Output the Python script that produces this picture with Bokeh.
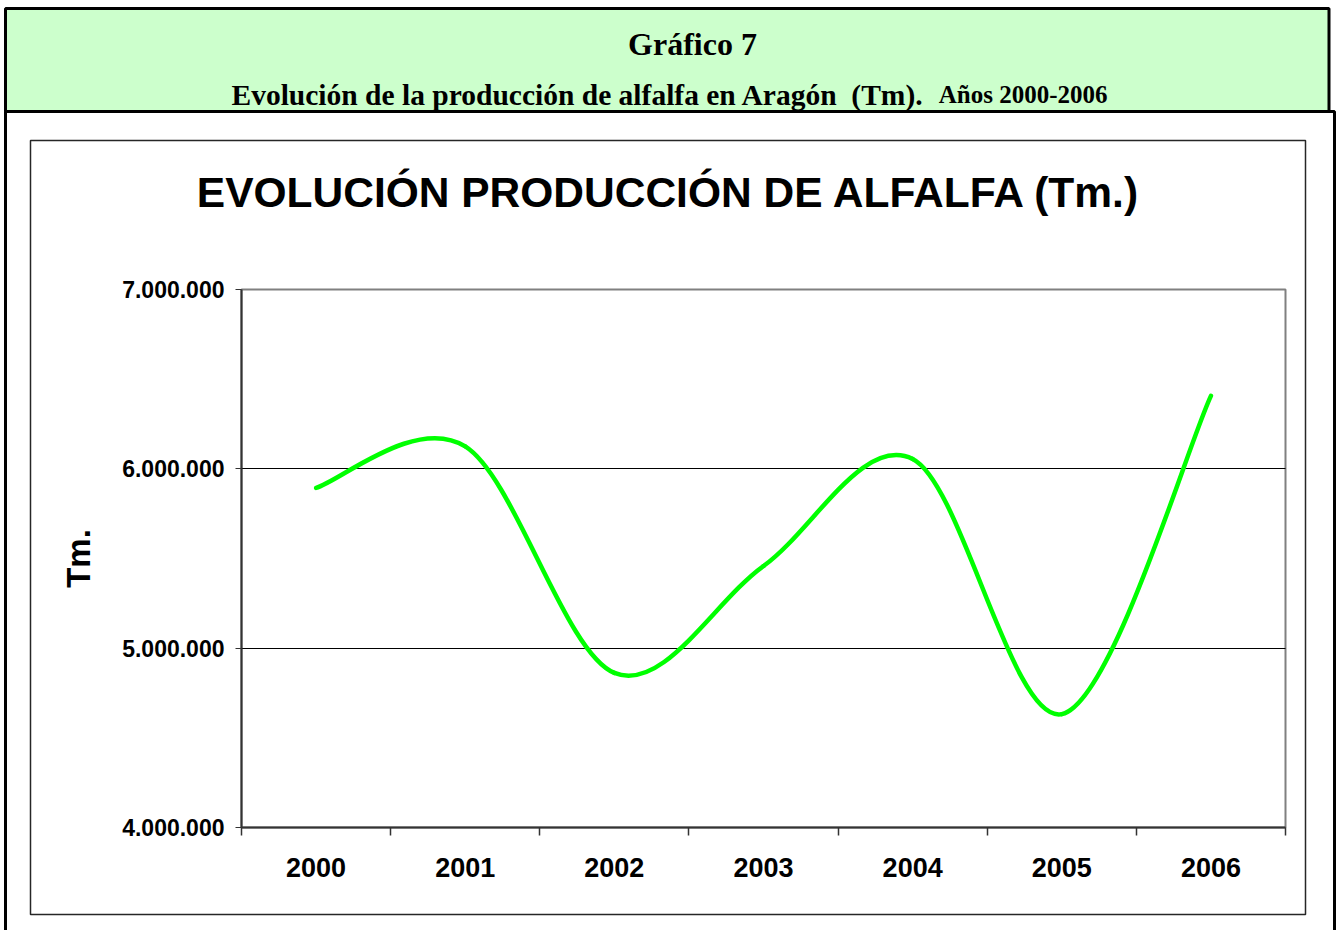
import numpy as np
from bokeh.plotting import figure
from bokeh.models import (Range1d, FixedTicker, CustomJSTickFormatter, Label,
                          BoxAnnotation, LinearAxis, Grid)
from bokeh.embed import file_html
from bokeh.resources import INLINE

# ---------------- data ----------------
years = ["2000", "2001", "2002", "2003", "2004", "2005", "2006"]
production = [5894000, 6125000, 4862000, 5458000, 6055000, 4632000, 6407000]
y_ticks = [4000000, 5000000, 6000000, 7000000]
y_tick_labels = ["4.000.000", "5.000.000", "6.000.000", "7.000.000"]

header_title = "Gráfico 7"
header_sub_main = "Evolución de la producción de alfalfa en Aragón\u00a0\u00a0(Tm)."
header_sub_tail = "Años 2000-2006"
chart_title = "EVOLUCIÓN PRODUCCIÓN DE ALFALFA (Tm.)"
y_label = "Tm."

# ---------------- layout constants (page pixels) ----------------
W, H = 1336, 930
PL, PR, PT, PB = 241, 1285, 289, 827     # plot area in pixels
X0, X1 = -0.5, len(years) - 0.5
Y0, Y1 = y_ticks[0], y_ticks[-1]
SX = (PR - PL) / (X1 - X0)
SY = (PB - PT) / (Y1 - Y0)


def dx(px):
    return X0 + (px - PL) / SX


def dy(py):
    return Y0 + (PB - py) / SY


p = figure(width=W, height=H, output_backend="svg", toolbar_location=None,
           x_range=Range1d(dx(0), dx(W)), y_range=Range1d(dy(H), dy(0)),
           x_axis_type=None, y_axis_type=None,
           min_border_left=0, min_border_right=0,
           min_border_top=0, min_border_bottom=0)
p.title.visible = False
p.background_fill_color = "white"
p.border_fill_color = "white"
p.outline_line_color = None

# ---------------- decorations (boxes) ----------------
outer_lower = BoxAnnotation(left=dx(5), right=dx(1334), top=dy(111), bottom=dy(H + 50),
                            fill_alpha=0.0, line_color="black", line_alpha=1.0,
                            line_width=3, level="underlay")
header = BoxAnnotation(left=dx(5), right=dx(1328.5), top=dy(8), bottom=dy(111),
                       fill_color="#CCFFCC", fill_alpha=1.0,
                       line_color="black", line_alpha=1.0, line_width=3,
                       level="underlay")
chartbox = BoxAnnotation(left=dx(30), right=dx(1305), top=dy(140), bottom=dy(914),
                         fill_alpha=0.0, line_color="#262626", line_alpha=1.0,
                         line_width=1.5, level="underlay")
plotbox = BoxAnnotation(left=X0, right=X1, top=Y1, bottom=Y0,
                        fill_alpha=0.0, line_color="#808080", line_alpha=1.0,
                        line_width=2, level="underlay")
p.add_layout(outer_lower)
p.add_layout(header)
p.add_layout(chartbox)
p.add_layout(plotbox)

# ---------------- grid ----------------
grid = Grid(dimension=1, ticker=FixedTicker(ticks=[t for t in y_ticks if Y0 < t < Y1]),
            cross_bounds=(X0, X1), grid_line_color="black", grid_line_width=1)
p.add_layout(grid)

# ---------------- axes ----------------
yax = LinearAxis(
    fixed_location=X0, bounds=(Y0, Y1),
    ticker=FixedTicker(ticks=y_ticks),
    formatter=CustomJSTickFormatter(args=dict(yvals=y_ticks, ylabs=y_tick_labels),
                                    code="const i = yvals.indexOf(tick); return i >= 0 ? ylabs[i] : '';"),
    axis_label=y_label,
)
yax.axis_line_color = "#333333"
yax.axis_line_width = 2
yax.major_tick_out = 6
yax.major_tick_in = 0
yax.major_tick_line_color = "#333333"
yax.minor_tick_line_color = None
yax.major_label_standoff = 11
yax.major_label_text_font = "Liberation Sans"
yax.major_label_text_font_style = "bold"
yax.major_label_text_font_size = "23px"
yax.major_label_text_color = "black"
yax.axis_label_text_font = "Liberation Sans"
yax.axis_label_text_font_style = "bold"
yax.axis_label_text_font_size = "33px"
yax.axis_label_text_color = "black"
yax.axis_label_standoff = 22
p.add_layout(yax, "left")

xax = LinearAxis(
    fixed_location=Y0, bounds=(X0, X1),
    ticker=FixedTicker(ticks=list(range(len(years))),
                       minor_ticks=[i - 0.5 for i in range(len(years) + 1)]),
    formatter=CustomJSTickFormatter(args=dict(yrs=years),
                                    code="const i = Math.round(tick); return (i >= 0 && i < yrs.length) ? yrs[i] : '';"),
)
xax.axis_line_color = "#333333"
xax.axis_line_width = 2
xax.major_tick_out = 0
xax.major_tick_in = 0
xax.minor_tick_out = 8
xax.minor_tick_in = 0
xax.minor_tick_line_color = "#333333"
xax.minor_tick_line_width = 1.5
xax.major_label_standoff = 22
xax.major_label_text_font = "Liberation Sans"
xax.major_label_text_font_style = "bold"
xax.major_label_text_font_size = "27px"
xax.major_label_text_color = "black"
p.add_layout(xax, "below")

# ---------------- smoothed line (Catmull-Rom style bezier) ----------------
xs = np.arange(len(years), dtype=float)
ys = np.array(production, dtype=float)
n = len(xs)
mx = np.zeros(n)
my = np.zeros(n)
for i in range(n):
    a = max(i - 1, 0)
    b = min(i + 1, n - 1)
    mx[i] = (xs[b] - xs[a]) / 2.0
    my[i] = (ys[b] - ys[a]) / 2.0
p.bezier(x0=xs[:-1], y0=ys[:-1], x1=xs[1:], y1=ys[1:],
         cx0=xs[:-1] + mx[:-1] / 3.0, cy0=ys[:-1] + my[:-1] / 3.0,
         cx1=xs[1:] - mx[1:] / 3.0, cy1=ys[1:] - my[1:] / 3.0,
         line_color="#00FF00", line_width=4.5, line_cap="round")

# ---------------- texts ----------------
p.add_layout(Label(x=dx(692), y=dy(43), text=header_title, text_align="center",
                   text_baseline="alphabetic", text_font="Liberation Serif",
                   text_font_style="bold", text_font_size="32px", text_color="black"))
p.add_layout(Label(x=dx(231), y=dy(94), text=header_sub_main, text_align="left",
                   text_baseline="alphabetic", text_font="Liberation Serif",
                   text_font_style="bold", text_font_size="29.5px", text_color="black"))
p.add_layout(Label(x=dx(1107), y=dy(94), text=header_sub_tail, text_align="right",
                   text_baseline="alphabetic", text_font="Liberation Serif",
                   text_font_style="bold", text_font_size="25px", text_color="black"))
p.add_layout(Label(x=dx(668.5), y=dy(192), text=chart_title, text_align="center",
                   text_baseline="alphabetic", text_font="Liberation Sans",
                   text_font_style="bold", text_font_size="42.5px", text_color="black"))

open("out.html", "w").write(file_html(p, INLINE))
